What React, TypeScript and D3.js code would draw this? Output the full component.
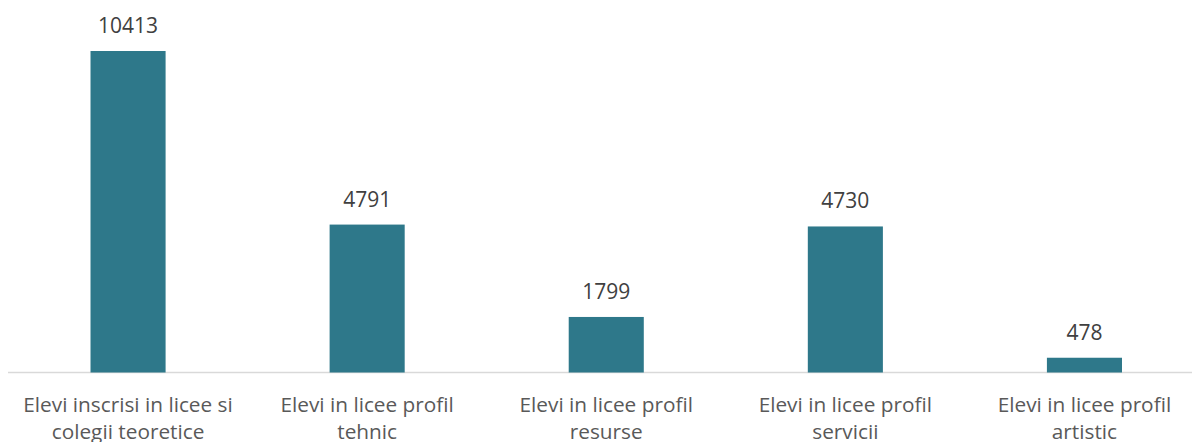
import React from "react";
import * as d3 from "d3";

const categories: string[][] = [
  ["Elevi inscrisi in licee si", "colegii teoretice"],
  ["Elevi in licee profil", "tehnic"],
  ["Elevi in licee profil", "resurse"],
  ["Elevi in licee profil", "servicii"],
  ["Elevi in licee profil", "artistic"],
];
const values: number[] = [10413, 4791, 1799, 4730, 478];

const W = 1192;
const H = 442;
const baseY = 372.5;
const FONT = "'Open Sans', 'DejaVu Sans', sans-serif";

export default function App() {
  const ids = categories.map((_, i) => String(i));
  const x = d3.scaleBand<string>().domain(ids).range([8.5, 1204]).paddingInner(0.686).paddingOuter(0.343);
  const y = d3.scaleLinear().domain([0, 10413]).range([baseY, 51]);
  return (
    <svg width={W} height={H} style={{ position: "fixed", left: 0, top: 0, background: "#fff" }}>
      <line x1={8} x2={W} y1={baseY} y2={baseY} stroke="#d9d9d9" strokeWidth={1.5} />
      {values.map((v, i) => {
        const bx = x(ids[i])!;
        const bw = x.bandwidth();
        const cx = bx + bw / 2;
        return (
          <g key={i}>
            <rect x={bx} y={y(v)} width={bw} height={baseY - y(v)} fill="#2E788A" />
            <text x={cx} y={y(v) - 18} textAnchor="middle" fontFamily={FONT} fontSize={21} fill="#404040">
              {v}
            </text>
            {categories[i].map((line, j) => (
              <text key={j} x={cx} y={412 + j * 27} textAnchor="middle" fontFamily={FONT} fontSize={20.8} fill="#595959">
                {line}
              </text>
            ))}
          </g>
        );
      })}
    </svg>
  );
}
